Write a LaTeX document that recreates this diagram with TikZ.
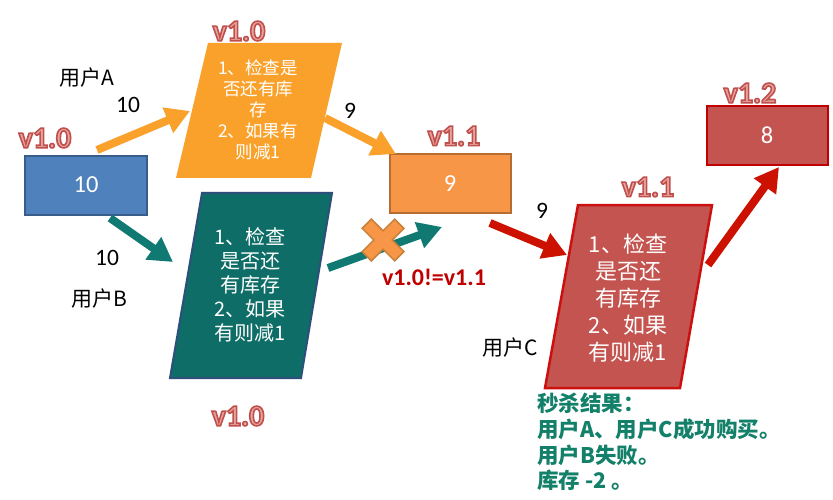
\documentclass[tikz,border=0pt]{standalone}
\usepackage{fontspec}
\setmainfont{Carlito}
\newfontfamily\cjk{Noto Sans CJK SC}
\usetikzlibrary{arrows.meta}
\definecolor{vred}{HTML}{C0504D}
\definecolor{vpink}{HTML}{E8A39C}
\definecolor{bluefill}{HTML}{4F81BD}
\definecolor{blueedge}{HTML}{385D8A}
\definecolor{orA}{HTML}{F9A12A}
\definecolor{teal}{HTML}{0E6E67}
\definecolor{tealedge}{HTML}{2C4F7C}
\definecolor{tealarrow}{HTML}{107A72}
\definecolor{or9}{HTML}{F79646}
\definecolor{or9edge}{HTML}{B66D31}
\definecolor{redfill}{HTML}{C4544F}
\definecolor{rededge}{HTML}{CC1010}
\definecolor{redarrow}{HTML}{CC1100}
\definecolor{neq}{HTML}{C00000}
\definecolor{resgreen}{HTML}{138069}
\definecolor{xedge}{HTML}{C98039}
\tikzset{
  vlab/.style={inner sep=0pt, font=\bfseries\fontsize{30}{32}\selectfont},
  lbl/.style={inner sep=0pt, font=\cjk\fontsize{21}{24}\selectfont},
  num/.style={inner sep=0pt, font=\fontsize{23.5}{26}\selectfont},
  boxnum/.style={inner sep=0pt, text=white, font=\fontsize{24.5}{27}\selectfont},
  fat/.style={line width=8pt, -{Triangle[length=24pt,width=26pt]}},
  ptext/.style={inner sep=0pt, align=center, text=white},
}
\newcommand{\vtag}[1]{\textcolor{vpink}{\special{pdf:literal direct 0.753 0.314 0.302 RG 2 Tr 1.6 w}#1\special{pdf:literal direct 0 Tr 0.4 w}}}
\begin{document}
\begin{tikzpicture}[x=1pt,y=-1pt]
\useasboundingbox (0,0) rectangle (833,500);
\fill[white] (0,0) rectangle (833,500);

% boxes
\draw[fill=bluefill, draw=blueedge, line width=2.5pt] (25,156) rectangle (147,215);
\node[boxnum] (stockA) at (86,185) {10};
\draw[fill=or9, draw=or9edge, line width=2.5pt] (390,154) rectangle (511,213);
\node[boxnum] (stockB) at (450,184) {9};
\draw[fill=redfill, draw=neq, line width=2.5pt] (707,106) rectangle (828,165);
\node[boxnum] (stockC) at (767,135) {8};

% parallelograms
\fill[orA] (208,43) -- (342,43) -- (311,178) -- (176,178) -- cycle;
\node[ptext, font=\cjk\fontsize{17.5}{21}\selectfont] (procA) at (258,110)
  {1、检查是\\否还有库\\存\\2、如果有\\则减1};
\draw[fill=teal, draw=tealedge, line width=2pt] (202,193) -- (332,193) -- (301,378) -- (170,378) -- cycle;
\node[ptext, font=\cjk\fontsize{20}{24}\selectfont] (procB) at (250,285)
  {1、检查\\是否还\\有库存\\2、如果\\有则减1};
\draw[fill=redfill, draw=rededge, line width=2.5pt] (578,205) -- (712,205) -- (680,388) -- (545,388) -- cycle;
\node[ptext, font=\cjk\fontsize{22}{27}\selectfont] (procC) at (628,298)
  {1、检查\\是否还\\有库存\\2、如果\\有则减1};

% version tags
\node[vlab] (vA) at (45,138) {\vtag{v1.0}};
\node[vlab] (vpA) at (239,31) {\vtag{v1.0}};
\node[vlab] (vpB) at (238,416) {\vtag{v1.0}};
\node[vlab] (v9) at (454,136) {\vtag{v1.1}};
\node[vlab] (vpC) at (648,187) {\vtag{v1.1}};
\node[vlab] (v8) at (750,93) {\vtag{v1.2}};

% arrow end points
\coordinate (a1s) at (97,150);  \coordinate (a1e) at (190,111);
\coordinate (a2s) at (325,118); \coordinate (a2e) at (396,154);
\coordinate (b1s) at (110,218); \coordinate (b1e) at (173,262);
\coordinate (b2s) at (328,268); \coordinate (b2e) at (442,227);
\coordinate (c1s) at (490,223); \coordinate (c1e) at (567,255);
\coordinate (c2s) at (708,265); \coordinate (c2e) at (779,167);

\draw[fat, draw=orA, fill=orA] (a1s) -- (a1e);
\draw[fat, draw=orA, fill=orA] (a2s) -- (a2e);
\draw[fat, draw=tealarrow, fill=tealarrow] (b1s) -- (b1e);
\draw[fat, draw=tealarrow, fill=tealarrow] (b2s) -- (b2e);
\draw[fat, draw=redarrow, fill=redarrow] (c1s) -- (c1e);
\draw[fat, draw=redarrow, fill=redarrow] (c2s) -- (c2e);

% cross
\coordinate (xmark) at (383,240);
\draw[fill=or9, draw=xedge, line width=1.5pt, shift={(xmark)}, rotate=45]
  (-23,-6.5) -- (-6.5,-6.5) -- (-6.5,-23) -- (6.5,-23) -- (6.5,-6.5) -- (23,-6.5)
  -- (23,6.5) -- (6.5,6.5) -- (6.5,23) -- (-6.5,23) -- (-6.5,6.5) -- (-23,6.5) -- cycle;
\node[inner sep=0pt, text=neq, font=\bfseries\fontsize{24}{26}\selectfont] (neqlab) at (434,277) {v1.0!=v1.1};

% labels
\node[lbl] (uA) at (87,78) {用户A};
\node[num] (nA) at (128,105) {10};
\node[num] (n9a) at (350,111) {9};
\node[num] (nB) at (107,258) {10};
\node[lbl] (uB) at (99,299) {用户B};
\node[lbl] (uC) at (510,348) {用户C};
\node[num] (n9c) at (542,211) {9};

% result
\node[inner sep=0pt, anchor=north west, align=left, text=resgreen,
      font=\cjk\bfseries\fontsize{21.5}{25.7}\selectfont] (result) at (537,393)
  {秒杀结果：\\用户A、用户C成功购买。\\用户B失败。\\库存 -2 。};
\end{tikzpicture}
\end{document}
